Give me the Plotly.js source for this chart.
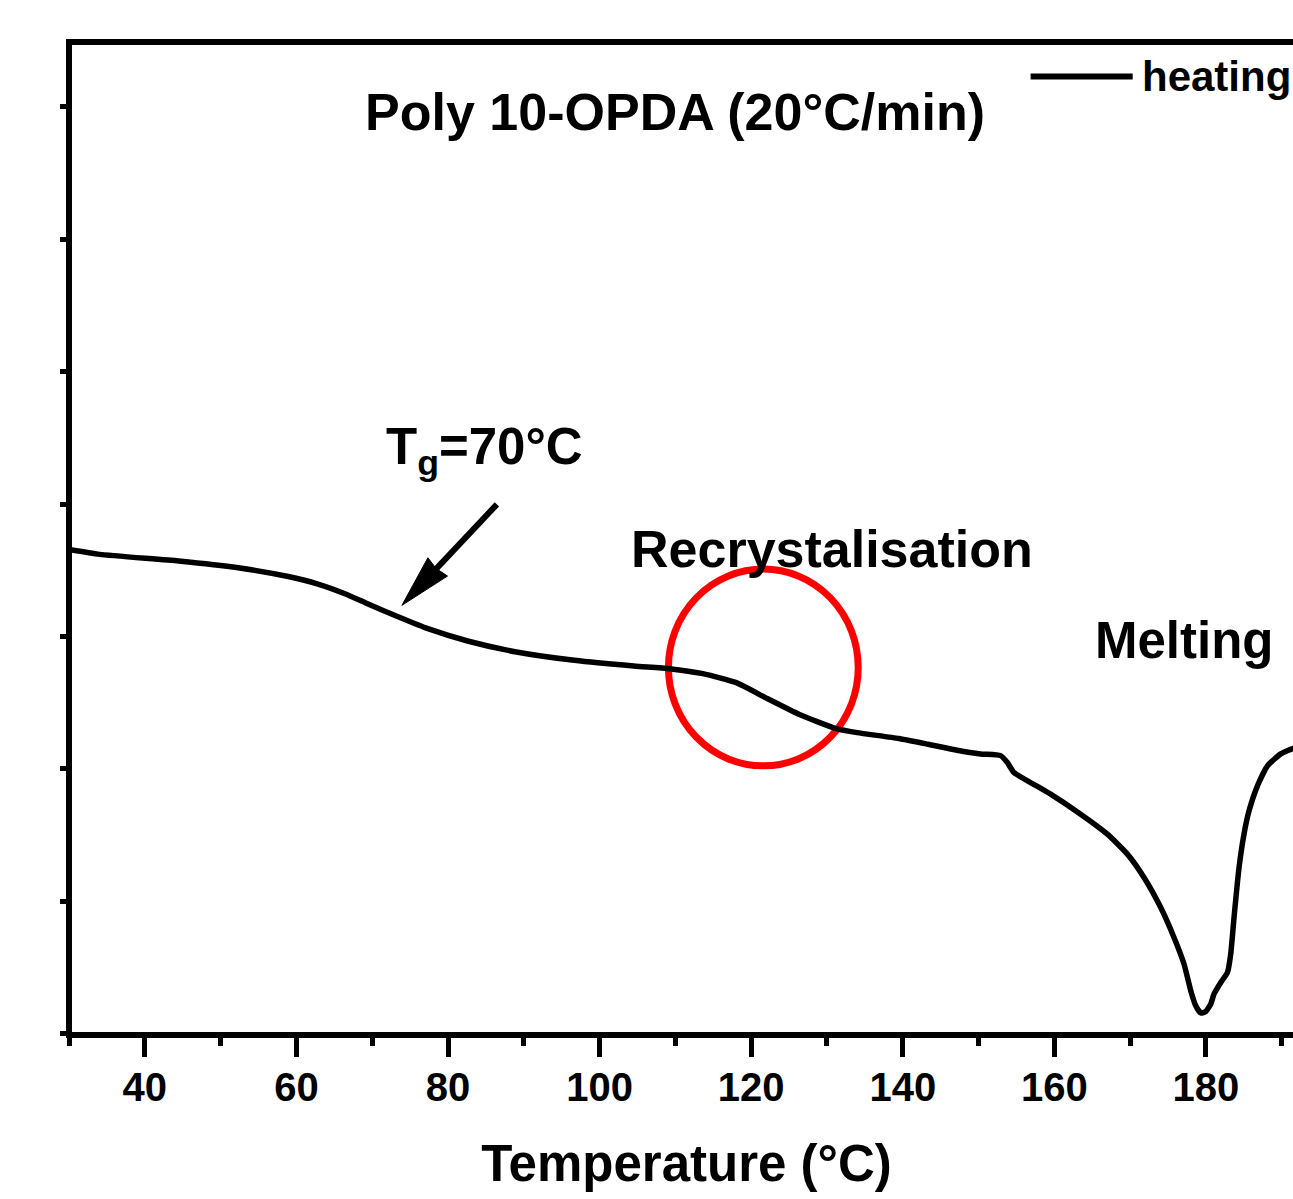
<!DOCTYPE html>
<html>
<head>
<meta charset="utf-8">
<script src="https://cdn.plot.ly/plotly-3.0.1.min.js"></script>
<style>
html, body { margin: 0; padding: 0; overflow: hidden; background: #fff; }
#chart { width: 1320px; height: 1199px; }
</style>
</head>
<body>
<div id="chart"></div>
<script>
// Temperature (°C) and heat flow (arbitrary units, y axis unlabeled)
const temperature = [30.00, 34.03, 44.47, 52.31, 59.08, 62.74, 66.40, 69.53, 73.18, 77.35,
  82.58, 88.84, 96.67, 104.51, 109.21, 113.63, 118.03, 121.88, 126.28, 131.23,
  133.97, 139.47, 143.32, 147.16, 150.26, 152.90, 153.79, 154.66, 156.86, 159.50,
  163.46, 166.99, 169.63, 171.82, 174.03, 175.78, 177.10, 177.99, 178.65, 179.31,
  179.97, 180.63, 181.06, 181.95, 182.83, 183.26, 183.70, 184.36, 185.02, 185.68,
  186.79, 188.11, 189.87, 191.58, 193.10];
const heatFlow = [3.657, 3.620, 3.570, 3.519, 3.451, 3.398, 3.323, 3.243, 3.155, 3.059,
  2.966, 2.885, 2.820, 2.777, 2.757, 2.719, 2.651, 2.538, 2.413, 2.304,
  2.274, 2.229, 2.186, 2.141, 2.113, 2.100, 2.048, 1.972, 1.897, 1.809,
  1.658, 1.507, 1.356, 1.180, 0.953, 0.727, 0.526, 0.325, 0.211, 0.156,
  0.168, 0.224, 0.300, 0.387, 0.462, 0.601, 0.878, 1.255, 1.509, 1.683,
  1.872, 2.023, 2.113, 2.156, 2.170];
const seriesName = "heating";
const chartTitle = "Poly 10-OPDA (20°C/min)";
const xTitle = "Temperature (°C)";
const tgLabel = "T<sub>g</sub>=70°C";
const recrystLabel = "Recrystalisation";
const meltLabel = "Melting";
const xTickVals = [40, 60, 80, 100, 120, 140, 160, 180];
const xTickText = ["40", "60", "80", "100", "120", "140", "160", "180"];

const FONT = 'Arial, "Liberation Sans", Helvetica, sans-serif';

const trace = {
  x: temperature,
  y: heatFlow,
  type: 'scatter',
  mode: 'lines',
  name: seriesName,
  showlegend: false,
  line: { color: '#000000', width: 5.5, shape: 'spline', smoothing: 0.5 }
};

const layout = {
  width: 1320,
  height: 1199,
  margin: { l: 69.4, r: 16.4, t: 41.7, b: 163.5, pad: 0 },
  paper_bgcolor: '#ffffff',
  plot_bgcolor: '#ffffff',
  font: { family: FONT, color: '#000000', weight: 'bold' },
  showlegend: false,
  title: {
    text: chartTitle,
    font: { family: FONT, size: 52, color: '#000', weight: 'bold' },
    xref: 'container', yref: 'container',
    x: 0.5114, xanchor: 'center',
    y: 0.9066, yanchor: 'middle',
    automargin: false
  },
  xaxis: {
    range: [30, 192.93],
    tickmode: 'array',
    tickvals: xTickVals,
    ticktext: xTickText,
    ticks: 'outside',
    ticklen: 21,
    tickwidth: 5,
    tickcolor: '#000',
    ticklabelstandoff: -4,
    minor: { dtick: 10, tick0: 0, ticks: 'outside', ticklen: 10, tickwidth: 5, tickcolor: '#000' },
    showline: false,
    showgrid: false,
    zeroline: false,
    tickfont: { family: FONT, size: 40, color: '#000', weight: 'bold' },
    title: { text: xTitle, font: { family: FONT, size: 51, color: '#000', weight: 'bold' }, standoff: 37 }
  },
  yaxis: {
    range: [-0.01, 7.49],
    dtick: 1,
    tick0: 0,
    ticks: 'outside',
    ticklen: 8,
    tickwidth: 5,
    tickcolor: '#000',
    showticklabels: false,
    showline: false,
    showgrid: false,
    zeroline: false
  },
  shapes: [
    // red ellipse around recrystallisation region
    { type: 'circle', xref: 'x', yref: 'y', x0: 109.08, x1: 134.12, y0: 2.023, y1: 3.509,
      line: { color: '#ff0000', width: 7 }, layer: 'below' },
    // arrow head (pixel sized, anchored at tip)
    { type: 'path', xref: 'x', yref: 'y', xsizemode: 'pixel', ysizemode: 'pixel',
      xanchor: 73.92, yanchor: 3.235,
      path: 'M0,0 L26,47.6 L34,37 L45.6,29.3 Z',
      fillcolor: '#000', line: { color: '#000', width: 1 } },
    // arrow shaft
    { type: 'line', xref: 'x', yref: 'y', xsizemode: 'pixel', ysizemode: 'pixel',
      xanchor: 73.92, yanchor: 3.235, x0: 30, y0: 32, x1: 95, y1: 101,
      line: { color: '#000', width: 6 } },
    // legend line sample
    { type: 'line', xref: 'x', yref: 'y', x0: 156.86, x1: 170.33, y0: 7.23, y1: 7.23,
      line: { color: '#000', width: 6 } },
    // plot frame, centred on the plot edges
    { type: 'rect', xref: 'paper', yref: 'paper', x0: 0, x1: 1, y0: 0, y1: 1,
      line: { color: '#000', width: 6 }, fillcolor: 'rgba(0,0,0,0)', layer: 'above' }
  ],
  annotations: [
    { text: tgLabel, xref: 'x', yref: 'y', x: 71.58, y: 4.403, xanchor: 'left', yanchor: 'middle',
      showarrow: false, font: { family: FONT, size: 51, color: '#000', weight: 'bold' } },
    { text: recrystLabel, xref: 'x', yref: 'y', x: 103.92, y: 3.664, xanchor: 'left', yanchor: 'middle',
      showarrow: false, font: { family: FONT, size: 52, color: '#000', weight: 'bold' } },
    { text: meltLabel, xref: 'x', yref: 'y', x: 165.05, y: 2.969, xanchor: 'left', yanchor: 'middle',
      showarrow: false, font: { family: FONT, size: 51, color: '#000', weight: 'bold' } },
    { text: seriesName, xref: 'x', yref: 'y', x: 171.25, y: 7.232, xanchor: 'left', yanchor: 'middle',
      showarrow: false, font: { family: FONT, size: 42, color: '#000', weight: 'bold' } }
  ]
};

Plotly.newPlot('chart', [trace], layout, { displayModeBar: false, staticPlot: true });
</script>
</body>
</html>
